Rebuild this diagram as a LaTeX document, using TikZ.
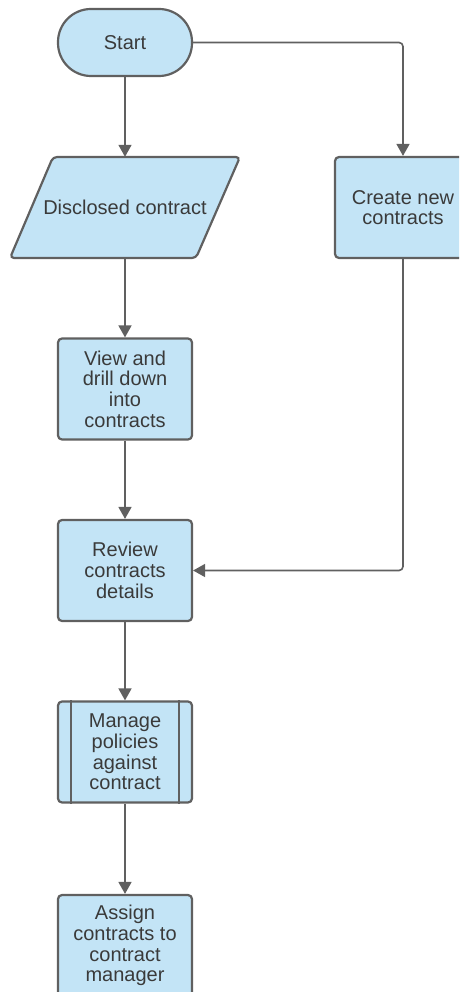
\documentclass[tikz,border=0pt]{standalone}
\usepackage{fontspec}
\setmainfont{Liberation Sans}
\usetikzlibrary{arrows.meta}
\definecolor{boxfill}{HTML}{C3E4F6}
\definecolor{boxline}{HTML}{606060}
\definecolor{txt}{HTML}{3A3A3A}
\begin{document}
\begin{tikzpicture}[x=1pt,y=-1pt,
  box/.style={draw=boxline, fill=boxfill, line width=2.2pt, rounded corners=4pt,
    minimum width=134pt, minimum height=101pt, inner sep=0pt, align=center,
    text=txt, font=\fontsize{20}{20.7}\selectfont},
  conn/.style={draw=boxline, line width=1.6pt, -{Triangle[length=12pt,width=13pt]}},
  ghost/.style={minimum width=134pt, minimum height=101pt, inner sep=0pt, align=center,
    text=txt, font=\fontsize{20}{20.7}\selectfont}]
\useasboundingbox (0,0) rectangle (459,992);
\clip (0,0) rectangle (459,992);
% Start
\node[box, rounded corners=33pt, minimum height=67pt] (start) at (125,42.5) {Start};
% Disclosed contract (parallelogram)
\draw[draw=boxline, fill=boxfill, line width=2.2pt, rounded corners=4pt]
  (53,157) -- (240,157) -- (196,258) -- (10,258) -- cycle;
\node[ghost] (disc) at (125,207.5) {Disclosed contract};
% Create new contracts
\node[box, minimum width=136pt] (create) at (403,207.5) {Create new\\contracts};
% View
\node[box] (view) at (125,389) {View and\\drill down\\into\\contracts};
% Review
\node[box] (review) at (125,570.5) {Review\\contracts\\details};
% Manage (predefined process)
\node[box] (manage) at (125,752) {Manage\\policies\\against\\contract};
\draw[boxline, line width=2.2pt] ([xshift=14pt]manage.north west) -- ([xshift=14pt]manage.south west);
\draw[boxline, line width=2.2pt] ([xshift=-14pt]manage.north east) -- ([xshift=-14pt]manage.south east);
% Assign
\node[box] (assign) at (125,945.5) {Assign\\contracts to\\contract\\manager};
% connectors
\draw[conn] (start.south) -- (disc.north);
\draw[conn, rounded corners=4pt] (start.east) -| (create.north);
\draw[conn] (disc.south) -- (view.north);
\draw[conn] (view.south) -- (review.north);
\draw[conn, rounded corners=4pt] (create.south) |- (review.east);
\draw[conn] (review.south) -- (manage.north);
\draw[conn] (manage.south) -- (assign.north);
\end{tikzpicture}
\end{document}
